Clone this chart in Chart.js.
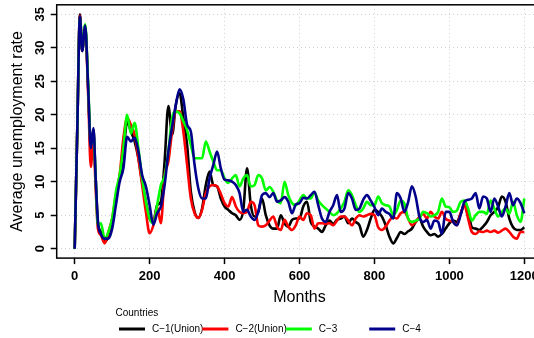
<!DOCTYPE html>
<html><head><meta charset="utf-8">
<script src="https://cdn.jsdelivr.net/npm/chart.js@4.4.1/dist/chart.umd.min.js"></script>
<style>
html,body{margin:0;padding:0;background:#fff;overflow:hidden;width:534px;height:338px}
#wrap{width:560px;height:338px;position:relative}
canvas{display:block}
</style>
</head><body><div id="wrap"><canvas id="c" width="560" height="338" style="width:560px;height:338px"></canvas></div>
<script>
// ---- data ----
const months = [0,7,14,20,28,36,43,50,56,62,70,80,
 90,100,110,120,130,140,150,160,170,180,190,200,210,220,230,240,250,260,270,280,290,300,
 310,320,330,340,350,360,370,380,390,400,410,420,430,440,450,460,470,480,490,500,
 510,520,530,540,550,560,570,580,590,600,610,620,630,640,650,660,670,680,690,700,
 710,720,730,740,750,760,770,780,790,800,810,820,830,840,850,860,870,880,890,900,
 910,920,930,940,950,960,970,980,990,1000,1010,1020,1030,1040,1050,1060,1070,1080,1090,1100,
 1110,1120,1130,1140,1150,1160,1170,1180,1190,1200];

const c1 = [0,18,35,29.5,33.2,24,15,17.8,10.5,4,2.5,1,
 1.8,3.5,7.5,10.5,14,19,17.5,16,13.5,10,7,4.5,4,6.5,7,13,21.3,17,21.5,23.2,19.5,15.5,
 8.5,5.5,4.6,6,9.5,11.5,9.5,9.3,7.5,6.3,5.8,5.3,5,4.3,5.8,12,6.5,4.8,5.5,7.5,
 5,3.5,3,3,5,3.8,3.3,4.3,4.5,4.5,6.3,7,4,3.3,3,2.5,3.5,4.2,3.7,4.3,
 4.5,4.8,3.8,4.5,4,3.5,1.8,2.8,4.5,5.8,5.5,4.8,3.5,1.8,0.8,1.6,2.5,2.2,2.6,3,
 4,4.5,3.3,2.5,2,2.2,1.8,2.2,3,3.8,4.2,4,5.2,6.5,5.5,3.2,3,2.8,3.3,4,
 5,5.5,6.2,7.8,7,4.5,3.2,2.8,2.8,3.2];

const c2 = [0,18,34.8,29.5,33,23,12.2,16.5,9,3,2,0.8,
 2.5,4.5,8,11,16.5,19.5,18.5,17,13.5,9.5,5.5,2.3,3.5,6.2,3.8,11,13,17.5,20.5,20.5,17.5,12.5,
 7.5,5.3,4.6,5.8,8.3,9.3,9.5,9.3,8.2,6.8,6.3,7.7,6.3,5.5,5.3,5.5,7,6.5,3.5,3.3,
 3.5,4.2,4.8,3.3,2.8,4.3,3.3,2.8,3.5,4.8,4.3,5.3,5,3,3.8,3.8,3.7,3.8,3.5,4.2,
 4.8,4.8,4.2,3.5,4.5,5,4.8,5,5.2,5,3.2,2.8,3.3,4.2,4.7,4.5,5.3,5.5,4.5,3.5,
 4,4.8,5.2,4.5,5.5,4.8,4.5,5.5,4.5,4.2,4,3.5,5.3,6.5,4.5,2.5,2.2,2.6,2.5,2.7,
 2.5,2.7,2.4,2.7,3,2.5,1.8,1.5,2.5,2.5];

const c3 = [0,18,34.5,29.8,33.5,24.5,15.5,17,10.5,3.5,3.8,1.5,
 2.5,4.5,8.5,11,15,20,17.2,18.8,15,10.5,7,4.5,3.8,6.5,9.5,10.8,14.5,19.5,20.5,20.2,19,17.7,
 15.5,13.5,13.5,13.5,16,14.5,13,11.7,11.7,10.5,9.8,10.5,11,9.3,10.5,11,9.3,9.5,11,10.5,
 8.7,9.2,8.5,7.2,6.8,10,8,6.8,6.5,7.2,8,7.5,7.5,8.4,7.2,6.5,6,5.5,5,5.3,
 6,7,8.7,8,6.5,5.5,6,7,6.5,6.5,7.8,6.8,6.5,6.3,5,5.8,7.2,6.7,4.5,4,
 4.2,4.5,5.5,5.3,4.8,5,5.5,7.5,6.3,6.2,5.5,5.7,7,7.2,6,4.2,5,5.5,5.5,5.2,
 7.2,6,4.8,5.5,6,5.2,7,5,4,7.5];

const c4 = [0,18,34.7,29.5,33.3,24,15,18,10.5,4,2.2,1.5,
 1.5,3,6.5,10,12,16.7,16,16.6,14.5,11,9.3,6.5,3.6,5.3,6.3,9.5,14.5,18.2,21.5,23.8,22.3,18.5,
 17.5,12.5,9,7.5,7.5,10.5,12.5,14.5,12,10.3,10.2,10,9.5,8.3,5.5,5.8,4.8,4.3,5.5,8,
 8.3,7.7,8.3,7,7.2,7.7,7,5.3,6.6,6.8,7.6,7.5,8,8.5,6.5,4.5,4,5.5,6.5,8,
 5.5,6,8.3,7.5,5.8,6,7.3,8,7.2,6.2,5,6,5.5,5.2,4.5,8.3,7.5,5.5,7,9.3,
 7.8,4.8,4,4.3,3,4.2,4,2.2,5.5,5.5,4,3.5,5,7,7.3,7.5,8.3,6,7.8,7.5,
 5.5,7.5,6.3,4.8,6.3,8.3,6.5,7.5,6.8,5.3];

const seriesNames = ["C\u22121(Union)", "C\u22122(Union)", "C\u22123", "C\u22124"];
const xTicks = [0,200,400,600,800,1000,1200];
const yTicks = [0,5,10,15,20,25,30,35];

// ---- styles ----
const colors = ["#000000", "#ff0000", "#00ff00", "#00008b"];
const FONT = "'Liberation Sans', Arial, Helvetica, sans-serif";

const seriesValues = [c1, c2, c3, c4];
const datasets = seriesValues.map((vals, i) => ({
  label: seriesNames[i],
  data: months.map((m, j) => ({x: m, y: vals[j]})),
  borderColor: colors[i],
  backgroundColor: colors[i],
  borderWidth: 2.6,
  pointRadius: 0,
  fill: false,
  cubicInterpolationMode: 'monotone',
  borderJoinStyle: 'round',
  order: 4 - i
}));

const boxPlugin = {
  id: 'box',
  afterDatasetsDraw(chart) {
    const {ctx, chartArea: a} = chart;
    ctx.save();
    ctx.strokeStyle = '#000';
    ctx.lineWidth = 1.5;
    ctx.strokeRect(a.left, a.top, a.right - a.left, a.bottom - a.top);
    ctx.restore();
  }
};

const legendPlugin = {
  id: 'rlegend',
  afterDraw(chart) {
    const ctx = chart.ctx;
    ctx.save();
    ctx.fillStyle = '#000';
    ctx.textBaseline = 'middle';
    ctx.textAlign = 'left';
    ctx.font = "10px " + FONT;
    ctx.fillText("Countries", 115.5, 313.5);
    chart.data.datasets.forEach((ds, i) => {
      const x0 = 119 + i * 83.4;
      const y = 329;
      ctx.strokeStyle = ds.borderColor;
      ctx.lineWidth = 3;
      ctx.beginPath();
      ctx.moveTo(x0, y);
      ctx.lineTo(x0 + 26, y);
      ctx.stroke();
      ctx.fillStyle = '#000';
      ctx.fillText(ds.label, x0 + 33, y);
    });
    ctx.restore();
  }
};

const gridOpts = {
  color: '#d0d0d0',
  lineWidth: 1,
  drawTicks: true,
  tickLength: 6,
  tickColor: '#000',
  tickWidth: 1.5
};

new Chart(document.getElementById('c'), {
  type: 'line',
  data: {datasets},
  plugins: [boxPlugin, legendPlugin],
  options: {
    responsive: false,
    animation: false,
    devicePixelRatio: 1,
    layout: {padding: {top: 4.8, left: 0, right: 17.7, bottom: 29.9}},
    plugins: {legend: {display: false}, tooltip: {enabled: false}},
    scales: {
      x: {
        type: 'linear',
        min: -48, max: 1248,
        afterBuildTicks: s => { s.ticks = xTicks.map(v => ({value: v})); },
        afterFit: s => { s.height = 50; s.paddingLeft = 0; s.paddingRight = 0; },
        ticks: {
          callback: v => String(v),
          autoSkip: false, maxRotation: 0, minRotation: 0,
          color: '#000', padding: 5,
          font: {family: FONT, size: 13, weight: 'bold'}
        },
        grid: gridOpts,
        border: {display: false, dash: [1, 3]},
        title: {display: true, text: 'Months', color: '#000',
          font: {family: FONT, size: 16}, padding: {top: 0, bottom: 1}}
      },
      y: {
        type: 'linear',
        min: -1.4, max: 36.4,
        afterBuildTicks: s => { s.ticks = yTicks.map(v => ({value: v})); },
        afterFit: s => { s.width = 56.7; s.paddingTop = 0; s.paddingBottom = 0; },
        ticks: {
          callback: v => String(v),
          autoSkip: false, minRotation: 90, maxRotation: 90,
          crossAlign: 'center',
          color: '#000', padding: 3,
          font: {family: FONT, size: 13, weight: 'bold'}
        },
        grid: gridOpts,
        border: {display: false, dash: [1, 3]},
        title: {display: true, text: 'Average unemployment rate', color: '#000',
          font: {family: FONT, size: 16}, padding: {top: 8, bottom: 0}}
      }
    }
  }
});
</script></body></html>
